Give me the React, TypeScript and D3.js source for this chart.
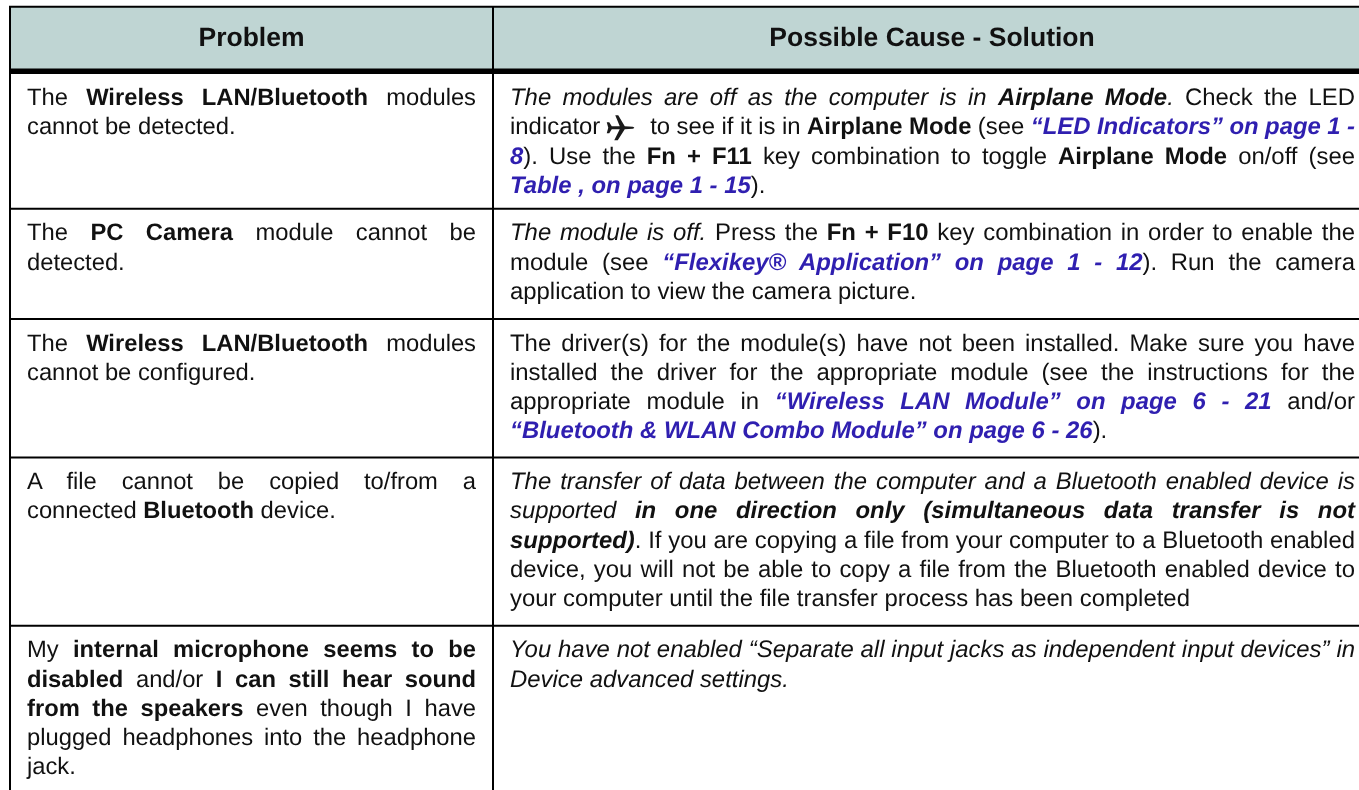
import React, { useEffect, useRef } from 'react';
import * as d3 from 'd3';

// markup in the cell lines: ^bold^  *italic*  ~link~  @ is the airplane icon
const headers = ['Problem', 'Possible Cause - Solution'];

const problems = [
  ['The ^Wireless LAN/Bluetooth^ modules', 'cannot be detected.'],
  ['The ^PC Camera^ module cannot be', 'detected.'],
  ['The ^Wireless LAN/Bluetooth^ modules', 'cannot be configured.'],
  ['A file cannot be copied to/from a', 'connected ^Bluetooth^ device.'],
  [
    'My ^internal microphone seems to be^',
    '^disabled^ and/or ^I can still hear sound^',
    '^from the speakers^ even though I have',
    'plugged headphones into the headphone',
    'jack.',
  ],
];

const solutions = [
  [
    '*The modules are off as the computer is in ^Airplane Mode^.* Check the LED',
    'indicator @ to see if it is in ^Airplane Mode^ (see ~“LED Indicators” on page 1 -~',
    '~8~). Use the ^Fn + F11^ key combination to toggle ^Airplane Mode^ on/off (see',
    '~Table , on page 1 - 15~).',
  ],
  [
    '*The module is off.* Press the ^Fn + F10^ key combination in order to enable the',
    'module (see ~“Flexikey® Application” on page 1 - 12~). Run the camera',
    'application to view the camera picture.',
  ],
  [
    'The driver(s) for the module(s) have not been installed. Make sure you have',
    'installed the driver for the appropriate module (see the instructions for the',
    'appropriate module in ~“Wireless LAN Module” on page 6 - 21~ and/or',
    '~“Bluetooth & WLAN Combo Module” on page 6 - 26~).',
  ],
  [
    '*The transfer of data between the computer and a Bluetooth enabled device is*',
    '*supported ^in one direction only (simultaneous data transfer is not^*',
    '*^supported)^*. If you are copying a file from your computer to a Bluetooth enabled',
    'device, you will not be able to copy a file from the Bluetooth enabled device to',
    'your computer until the file transfer process has been completed',
  ],
  [
    '*You have not enabled “Separate all input jacks as independent input devices” in*',
    '*Device advanced settings.*',
  ],
];

const Width = 1359;
const Height = 790;
const rowEdges = [73.5, 208.7, 319, 457.6, 625.7];
const leftEdge = 10;
const dividerX = 493;
const topEdge = 6.7;
const linePitch = 29.3;
const iconGap = 37;
const planePath =
  'M0,-5.5 L2.5,-5.5 L5,-1.5 L13,-1.5 L8.5,-12.5 L11.5,-12.5 L18,-1.5 L26,-1 Q29,0 26,1 L18,1.5 L11,12.5 L7.5,12.5 L13,1.5 L5,1.5 L2.5,5.5 L0,5.5 L1.5,0 Z';

type Run = { text: string; bold: boolean; italic: boolean; link: boolean; icon: boolean };

// split a marked up line into styled runs
const parseLine = (line: string): Run[] => {
  const runs: Run[] = [];
  let bold = false;
  let italic = false;
  let link = false;
  let current = '';
  const flush = () => {
    if (current) runs.push({ text: current, bold, italic, link, icon: false });
    current = '';
  };
  for (const ch of line) {
    if (ch === '^') {
      flush();
      bold = !bold;
    } else if (ch === '*') {
      flush();
      italic = !italic;
    } else if (ch === '~') {
      flush();
      link = !link;
    } else if (ch === '@') {
      flush();
      runs.push({ text: '', bold, italic, link, icon: true });
    } else {
      current += ch;
    }
  }
  flush();
  return runs;
};

const drawCell = (
  root: d3.Selection<SVGSVGElement, unknown, null, undefined>,
  lines: string[],
  x0: number,
  x1: number,
  rowTop: number,
  fontSize: number
) => {
  const baseline = d3.scaleLinear().domain([0, 1]).range([rowTop + 31.5, rowTop + 31.5 + linePitch]);

  lines.forEach((line, i) => {
    const text = root
      .append('text')
      .attr('x', x0)
      .attr('y', baseline(i))
      .attr('font-size', fontSize)
      .attr('fill', '#111')
      .style('white-space', 'pre');

    const runs = parseLine(line);
    let afterIcon = false;
    let iconRun: SVGTSpanElement | null = null;
    runs.forEach((r) => {
      if (r.icon) {
        afterIcon = true;
        return;
      }
      const span = text
        .append('tspan')
        .attr('font-weight', r.bold || r.link ? 'bold' : 'normal')
        .attr('font-style', r.italic || r.link ? 'italic' : 'normal')
        .attr('fill', r.link ? '#2f1fb0' : '#111')
        .text(r.text);
      if (afterIcon) {
        span.attr('dx', iconGap);
        iconRun = span.node();
        afterIcon = false;
      }
    });

    const node = text.node() as SVGTextElement;
    const spaces = (line.match(/ /g) || []).length;
    if (i < lines.length - 1 && spaces > 0) {
      const natural = node.getEndPositionOfChar(node.getNumberOfChars() - 1).x - x0;
      text.attr('word-spacing', (x1 - x0 - natural) / spaces);
    }

    if (iconRun) {
      const start = (iconRun as SVGTSpanElement).getStartPositionOfChar(0).x - iconGap;
      root
        .append('path')
        .attr('d', planePath)
        .attr('fill', '#1a1a1a')
        .attr('transform', `translate(${start}, ${baseline(i) - 6.5})`);
    }
  });
};

const App = () => {
  const ref = useRef<SVGSVGElement>(null);

  useEffect(() => {
    const root = d3.select(ref.current as SVGSVGElement);
    root.selectAll('*').remove();
    root.attr('font-family', '"Liberation Sans", Arial, sans-serif').style('text-rendering', 'geometricPrecision');

    root.append('rect').attr('width', Width).attr('height', Height).attr('fill', '#fff');

    // header band
    root
      .append('rect')
      .attr('x', leftEdge)
      .attr('y', topEdge)
      .attr('width', Width - leftEdge)
      .attr('height', rowEdges[0] - topEdge)
      .attr('fill', '#bfd5d3');

    const headerCentres = [(leftEdge + dividerX) / 2, 932];
    headers.forEach((h, i) => {
      root
        .append('text')
        .attr('x', headerCentres[i])
        .attr('y', 45.5)
        .attr('text-anchor', 'middle')
        .attr('font-size', 26.5)
        .attr('font-weight', 'bold')
        .attr('fill', '#111')
        .text(h);
    });

    // cells
    problems.forEach((lines, i) => drawCell(root, lines, 27, 476, rowEdges[i], 23.75));
    solutions.forEach((lines, i) => drawCell(root, lines, 510, 1355, rowEdges[i], 23.9));

    // rules
    const rule = (x1: number, y1: number, x2: number, y2: number, w: number) =>
      root
        .append('line')
        .attr('x1', x1)
        .attr('y1', y1)
        .attr('x2', x2)
        .attr('y2', y2)
        .attr('stroke', '#000')
        .attr('stroke-width', w);

    rule(leftEdge - 1, topEdge, Width, topEdge, 2);
    rule(leftEdge, topEdge, leftEdge, Height, 2);
    rule(dividerX, topEdge, dividerX, Height, 2);
    rule(leftEdge, 71.2, Width, 71.2, 5.6);
    rowEdges.slice(1).forEach((y) => rule(leftEdge, y, Width, y, 2));
  }, []);

  return <svg ref={ref} width={Width} height={Height} style={{ position: 'absolute', left: 0, top: 0, filter: 'blur(0.35px)' }} />;
};

export default App;
